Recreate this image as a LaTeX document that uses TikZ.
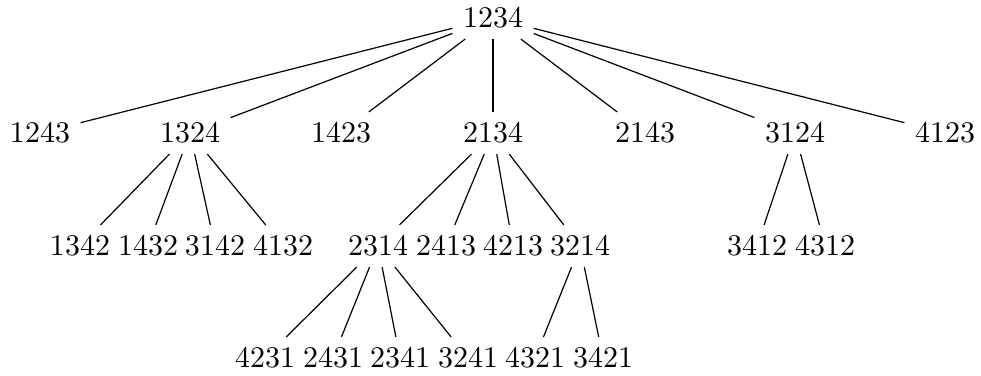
\documentclass[tikz,border=0pt]{standalone}
\usepackage{amsmath}
\usepackage{tikz}

\begin{document}
\begin{tikzpicture}[x=0.3333pt,y=0.3333pt,yscale=-1,xscale=1]
	\useasboundingbox (0,0) rectangle (981,376);
	\tikzset{perm/.style={inner sep=0.3333em}}

	% root
	\node [perm] (p1234) at (493,18) {1234};

	% first level
	\node [perm] (p1243) at (40,133) {1243};
	\node [perm] (p1324) at (190,133) {1324};
	\node [perm] (p1423) at (341,133) {1423};
	\node [perm] (p2134) at (493,133) {2134};
	\node [perm] (p2143) at (645,133) {2143};
	\node [perm] (p3124) at (795,133) {3124};
	\node [perm] (p4123) at (945,133) {4123};

	% second level
	\node [perm] (p1342) at (80,246) {1342};
	\node [perm] (p1432) at (148,246) {1432};
	\node [perm] (p3142) at (215,246) {3142};
	\node [perm] (p4132) at (283,246) {4132};
	\node [perm] (p2314) at (378,246) {2314};
	\node [perm] (p2413) at (446,246) {2413};
	\node [perm] (p4213) at (513,246) {4213};
	\node [perm] (p3214) at (580,246) {3214};
	\node [perm] (p3412) at (757,246) {3412};
	\node [perm] (p4312) at (825,246) {4312};

	% third level
	\node [perm] (p4231) at (265,358) {4231};
	\node [perm] (p2431) at (333,358) {2431};
	\node [perm] (p2341) at (400,358) {2341};
	\node [perm] (p3241) at (468,358) {3241};
	\node [perm] (p4321) at (535,358) {4321};
	\node [perm] (p3421) at (603,358) {3421};

	% edges
	\foreach \c in {1243,1324,1423,2134,2143,3124,4123}
		\draw (p1234) -- (p\c);
	\foreach \c in {1342,1432,3142,4132}
		\draw (p1324) -- (p\c);
	\foreach \c in {2314,2413,4213,3214}
		\draw (p2134) -- (p\c);
	\foreach \c in {3412,4312}
		\draw (p3124) -- (p\c);
	\foreach \c in {4231,2431,2341,3241}
		\draw (p2314) -- (p\c);
	\foreach \c in {4321,3421}
		\draw (p3214) -- (p\c);
\end{tikzpicture}
\end{document}
